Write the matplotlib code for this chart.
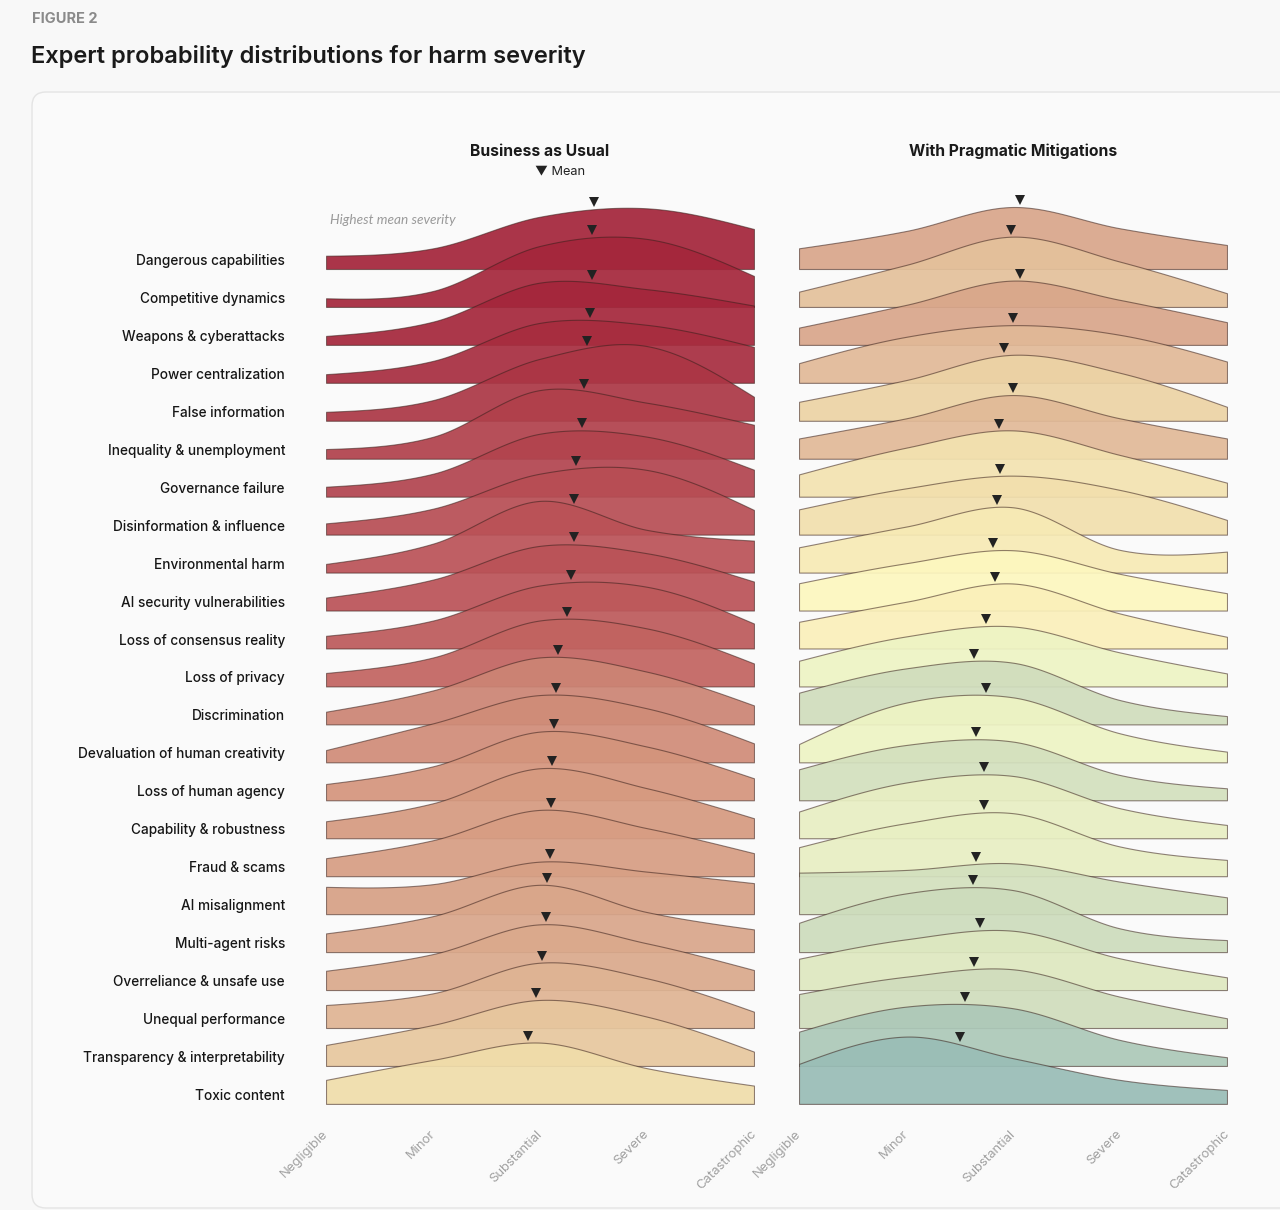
import numpy as np
import matplotlib
matplotlib.use("Agg")
import matplotlib.pyplot as plt
from matplotlib.colors import LinearSegmentedColormap
from matplotlib.patches import FancyBboxPatch
from matplotlib.transforms import IdentityTransform, offset_copy, ScaledTranslation

# ---------------- data ----------------
categories = [
    "Dangerous capabilities", "Competitive dynamics", "Weapons & cyberattacks",
    "Power centralization", "False information", "Inequality & unemployment",
    "Governance failure", "Disinformation & influence", "Environmental harm",
    "AI security vulnerabilities", "Loss of consensus reality", "Loss of privacy",
    "Discrimination", "Devaluation of human creativity", "Loss of human agency",
    "Capability & robustness", "Fraud & scams", "AI misalignment",
    "Multi-agent risks", "Overreliance & unsafe use", "Unequal performance",
    "Transparency & interpretability", "Toxic content",
]
severity_levels = ["Negligible", "Minor", "Substantial", "Severe", "Catastrophic"]

# relative density at each severity level (Business as Usual)
bau_density = [
    [13.3, 20.7, 52.3, 60.7, 40.0],
    [8.7, 16.0, 61.0, 68.0, 31.0],
    [9.0, 23.3, 62.3, 55.7, 39.3],
    [8.7, 22.0, 60.0, 58.0, 36.0],
    [9.0, 20.7, 62.0, 74.7, 24.0],
    [9.7, 22.0, 68.7, 56.0, 34.0],
    [10.0, 23.0, 63.0, 60.0, 27.0],
    [11.3, 26.0, 61.0, 64.7, 24.7],
    [8.7, 29.0, 71.7, 42.7, 32.0],
    [13.0, 31.0, 64.7, 57.3, 29.0],
    [12.7, 28.0, 63.0, 61.7, 25.0],
    [13.5, 29.0, 66.0, 58.0, 23.0],
    [12.7, 34.0, 67.0, 52.7, 19.0],
    [12.3, 39.0, 67.3, 54.0, 19.0],
    [16.3, 34.0, 68.7, 53.7, 22.0],
    [17.0, 35.0, 70.0, 50.0, 20.0],
    [18.0, 36.0, 66.3, 48.0, 23.0],
    [27.3, 30.0, 52.5, 42.5, 31.0],
    [18.7, 36.0, 67.3, 40.0, 22.7],
    [19.3, 36.0, 65.7, 46.7, 20.0],
    [23.0, 34.7, 65.3, 49.7, 16.3],
    [21.0, 41.0, 66.0, 49.3, 14.3],
    [24.0, 44.0, 61.3, 35.7, 18.3],
]
# relative density at each severity level (With Pragmatic Mitigations)
pm_density = [
    [20.7, 38.0, 62.0, 40.7, 24.0],
    [15.3, 42.0, 70.3, 45.3, 13.7],
    [17.3, 40.0, 64.3, 45.0, 22.7],
    [19.7, 46.0, 57.7, 48.0, 21.3],
    [19.0, 40.7, 66.0, 48.0, 14.0],
    [20.3, 40.4, 63.7, 40.4, 20.3],
    [22.3, 49.0, 66.3, 41.7, 14.0],
    [25.3, 46.3, 59.0, 44.7, 14.7],
    [25.3, 46.0, 65.3, 22.7, 21.0],
    [27.3, 47.3, 60.3, 36.7, 17.3],
    [26.7, 46.7, 65.0, 35.0, 11.7],
    [25.7, 50.0, 60.0, 34.0, 13.0],
    [31.7, 56.0, 61.7, 24.3, 8.3],
    [18.3, 59.7, 65.0, 29.0, 10.7],
    [31.0, 55.3, 58.7, 25.3, 12.0],
    [26.7, 55.7, 62.3, 30.0, 13.3],
    [29.0, 53.0, 63.0, 29.7, 16.3],
    [41.5, 44.2, 50.8, 32.5, 16.8],
    [29.3, 58.7, 62.0, 23.7, 12.0],
    [31.3, 50.7, 59.3, 31.7, 12.7],
    [34.0, 51.3, 58.7, 31.3, 9.7],
    [34.3, 59.3, 57.7, 26.0, 8.7],
    [40.0, 67.3, 45.7, 24.0, 14.0],
]
# mean severity (0 = Negligible ... 4 = Catastrophic)
bau_mean = [2.50, 2.49, 2.49, 2.47, 2.44, 2.41, 2.39, 2.34, 2.32, 2.32, 2.29, 2.25,
            2.17, 2.15, 2.13, 2.11, 2.10, 2.09, 2.07, 2.06, 2.02, 1.96, 1.89]
pm_mean = [2.07, 1.98, 2.07, 2.00, 1.92, 2.00, 1.87, 1.88, 1.85, 1.81, 1.83, 1.75,
           1.64, 1.75, 1.65, 1.73, 1.73, 1.65, 1.63, 1.69, 1.64, 1.55, 1.50]

panel_titles = ["Business as Usual", "With Pragmatic Mitigations"]

# ---------------- style ----------------
W, H = 1280, 1210
BG = "#f8f8f8"
ROW_PX = 37.95
DENSITY_SCALE = 1.0 / ROW_PX   # density units -> row units

stops = [(1.50, "#99bdb6"), (1.64, "#d1debd"), (1.75, "#eef4c4"), (1.81, "#fdf7bf"),
         (1.89, "#f0dcaa"), (2.00, "#e1ba97"), (2.07, "#d9a68a"), (2.13, "#d4957c"),
         (2.17, "#cc8474"), (2.25, "#c26460"), (2.32, "#ba5257"), (2.41, "#b0404b"),
         (2.50, "#a3243a")]
lo, hi = stops[0][0], stops[-1][0]
cmap = LinearSegmentedColormap.from_list(
    "sev", [((v - lo) / (hi - lo), c) for v, c in stops])


def color_for(m):
    return cmap(np.clip((m - lo) / (hi - lo), 0, 1))


def hermite(vals, xs):
    p = np.asarray(vals, float)
    k = len(p)
    m = np.zeros(k)
    m[1:-1] = (p[2:] - p[:-2]) / 2
    m[0] = (3 * (p[1] - p[0]) - m[1]) / 2
    m[-1] = (3 * (p[-1] - p[-2]) - m[-2]) / 2
    xs = np.atleast_1d(np.asarray(xs, float))
    i = np.clip(np.floor(xs).astype(int), 0, k - 2)
    t = xs - i
    h00 = 2 * t**3 - 3 * t**2 + 1
    h10 = t**3 - 2 * t**2 + t
    h01 = -2 * t**3 + 3 * t**2
    h11 = t**3 - t**2
    return h00 * p[i] + h10 * m[i] + h01 * p[i + 1] + h11 * m[i + 1]


FONT = ["Inter", "DejaVu Sans"]
plt.rcParams["font.family"] = FONT

fig = plt.figure(figsize=(W / 100, H / 100), dpi=100)
fig.patch.set_facecolor(BG)

card = FancyBboxPatch((32, 2), 1300, 1116,
                      boxstyle="round,pad=0,rounding_size=14",
                      transform=IdentityTransform(), facecolor="#fafafa",
                      edgecolor="#e4e4e4", linewidth=1.0, zorder=-5)
fig.patches.append(card)

fig.text(32 / W, 1 - 19 / H, "FIGURE 2", fontsize=10.5, fontweight="bold",
         color="#8a8a8a", va="center", ha="left")
fig.text(31 / W, 1 - 57 / H, "Expert probability distributions for harm severity",
         fontsize=17.0, fontweight="semibold", color="#1a1a1a", va="center", ha="left")

n = len(categories)
top_px, bot_px = 180, 1110
first_base_px = 269
ylim_top = -(first_base_px - top_px) / ROW_PX
ylim_bot = (n - 1) + (bot_px - (first_base_px + (n - 1) * ROW_PX)) / ROW_PX

panels = [(326, bau_density, bau_mean), (799, pm_density, pm_mean)]
xs = np.linspace(0, 4, 300)

for pi, (left_px, dens, means) in enumerate(panels):
    ax = fig.add_axes([left_px / W, 1 - bot_px / H, 428 / W, (bot_px - top_px) / H])
    ax.set_zorder(1)
    ax.set_facecolor("none")
    ax.set_xlim(0, 4)
    ax.set_ylim(ylim_bot, ylim_top)
    for s in ax.spines.values():
        s.set_visible(False)
    ax.set_yticks([])
    ax.set_xticks(range(len(severity_levels)))
    ax.set_xticklabels(severity_levels, rotation=45, ha="right", va="top",
                       rotation_mode="anchor", fontsize=9.4, color="#a0a0a0")
    ax.tick_params(axis="x", length=0, pad=13)
    shift = ScaledTranslation(-4 / 100, 0, fig.dpi_scale_trans)
    for lab in ax.get_xticklabels():
        lab.set_transform(lab.get_transform() + shift)

    for i in range(n):
        h = hermite(dens[i], xs) * DENSITY_SCALE
        col = color_for(means[i])
        face = (col[0], col[1], col[2], 0.92)
        ax.fill_between(xs, i, i - h, facecolor=face,
                        edgecolor=(0.22, 0.12, 0.10, 0.55), linewidth=0.8,
                        zorder=2 + i)

    mark_tr = offset_copy(ax.transData, fig=fig, x=0, y=7, units="dots")
    for i in range(n):
        hm = hermite(dens[i], [means[i]])[0] * DENSITY_SCALE
        ax.plot([means[i]], [i - hm], marker="v", markersize=7, color="#222222",
                markeredgewidth=0, transform=mark_tr, zorder=100, clip_on=False)

    ax.text(2, -3.1, panel_titles[pi], fontsize=11.3, fontweight="bold",
            color="#1a1a1a", ha="center", va="center", clip_on=False)

    if pi == 0:
        ax.text(2.19, -2.56, "▼ Mean", fontsize=9.2, color="#222222",
                ha="center", va="center", clip_on=False,
                family=["Inter", "DejaVu Sans"])
        ax.text(0.04, -1.29, "Highest mean severity", fontsize=9.8,
                style="italic", color="#9a9a9a", ha="left", va="center",
                family=["Lato", "DejaVu Sans"], clip_on=False)
        for i, cat in enumerate(categories):
            ax.annotate(cat, xy=(0, i - 8 / ROW_PX), xycoords="data",
                        xytext=(-41, 0), textcoords="offset pixels",
                        ha="right", va="center", fontsize=9.8,
                        fontweight="medium", color="#161616",
                        annotation_clip=False)

fig.savefig("out.png", dpi=100, facecolor=BG)
